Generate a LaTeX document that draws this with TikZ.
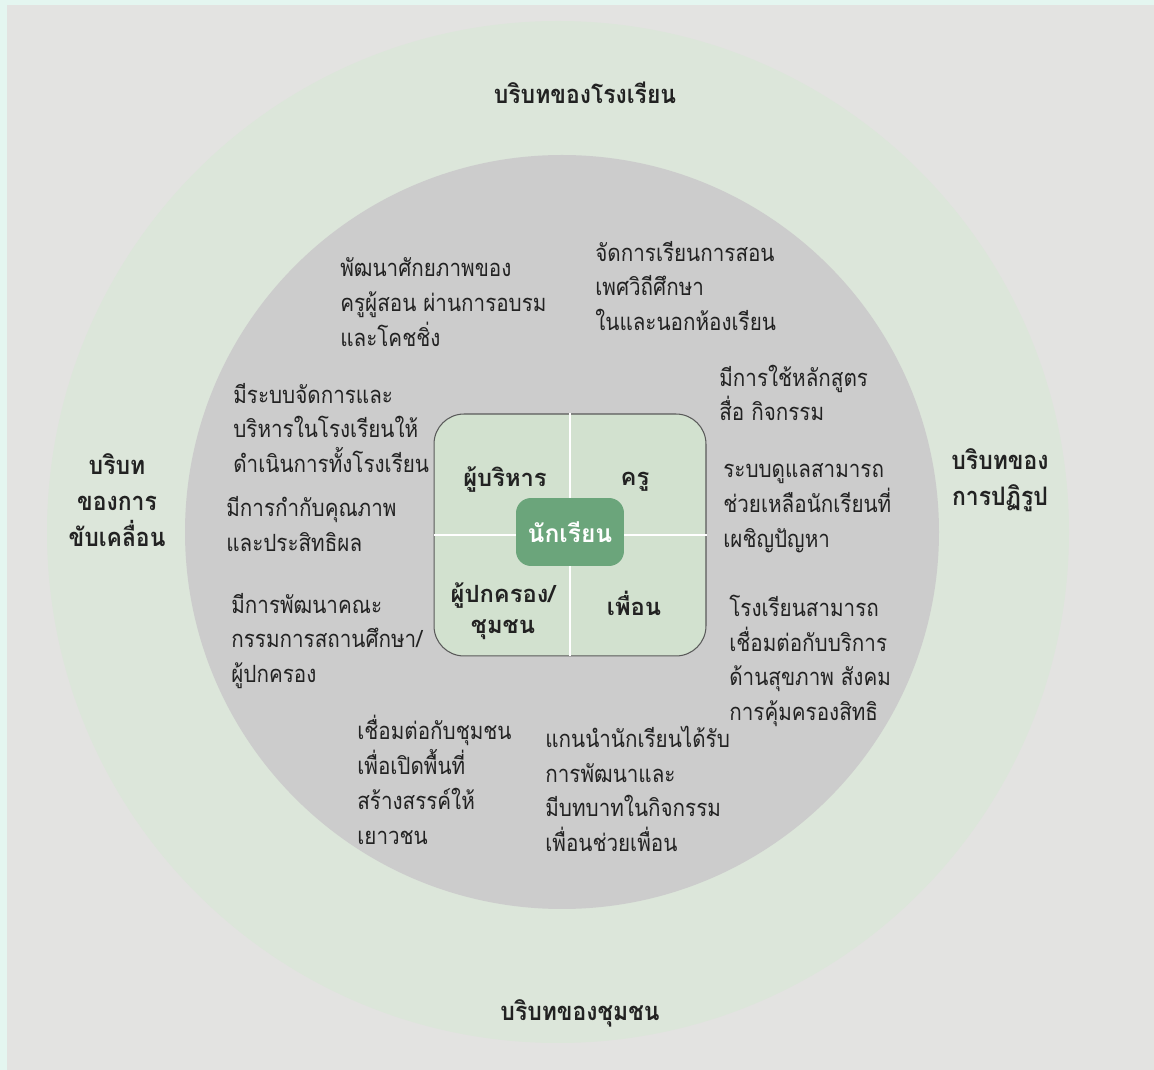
\documentclass[tikz,border=0pt]{standalone}
\usepackage{fontspec}
\newfontfamily\thaifont[Script=Thai]{Loma}
\newfontfamily\thainarrow[Script=Thai, FakeStretch=0.87]{Loma}
\newfontfamily\thaihead[Script=Thai, FakeStretch=0.9]{Loma}

\definecolor{checker}{HTML}{E4F6F0}
\definecolor{paper}{HTML}{E3E3E1}
\definecolor{ringgreen}{HTML}{DCE6DA}
\definecolor{coregray}{HTML}{CCCCCC}
\definecolor{hubgreen}{HTML}{D2E1CF}
\definecolor{studentgreen}{HTML}{6BA57B}
\definecolor{ink}{HTML}{222222}

\tikzset{
	blurb/.style={anchor=west, align=left, inner sep=0pt, text=ink,
		font=\thainarrow\fontsize{13.5}{19.8}\selectfont},
	ctxlabel/.style={align=center, inner sep=0pt, text=ink,
		font=\thaihead\bfseries\fontsize{14.5}{21}\selectfont},
	rolelabel/.style={align=center, inner sep=0pt, text=ink,
		font=\thaifont\bfseries\fontsize{13.5}{17.5}\selectfont},
}

\begin{document}
\begin{tikzpicture}[x=0.02cm, y=-0.02cm]
% page and rings
\fill[checker] (0,0) rectangle (1154,1070);
\fill[paper] (7,5) rectangle (1154,1070);
\useasboundingbox (0,0) rectangle (1154,1070);
\fill[ringgreen] (558,532) circle (511);
\fill[coregray] (562,532) circle (377);

% hub
\node[draw=black!65, line width=0.6pt, fill=hubgreen, rounded corners=0.6cm,
	minimum width=5.44cm, minimum height=4.84cm] (hub) at (570,535) {};
\draw[white, line width=1.2pt] (hub.north) -- (hub.south);
\draw[white, line width=1.2pt] (hub.west) -- (hub.east);
\node[fill=studentgreen, rounded corners=0.3cm, minimum width=2.16cm,
	minimum height=1.36cm, text=white, font=\thaifont\bfseries\fontsize{14}{17}\selectfont]
	(student) at (570,532) {นักเรียน};

\node[rolelabel] (admin) at (505,480) {ผู้บริหาร};
\node[rolelabel] (teacher) at (635,482) {ครู};
\node[rolelabel] (parent) at (503,611) {ผู้ปกครอง/\\ชุมชน};
\node[rolelabel] (friend) at (634,603) {เพื่อน};

% contexts
\node[ctxlabel] (school) at (585,93) {บริบทของโรงเรียน};
\node[ctxlabel] (community) at (580,1013) {บริบทของชุมชน};
\node[ctxlabel, font=\thaihead\bfseries\fontsize{14.5}{20.5}\selectfont] (drive) at (117,500) {บริบท\\ของการ\\ขับเคลื่อน};
\node[ctxlabel, font=\thaihead\bfseries\fontsize{14.5}{20.5}\selectfont] (reform) at (1000,480) {บริบทของ\\การปฏิรูป};

% school actions
\node[blurb] (coach) at (340,302) {พัฒนาศักยภาพของ\\ครูผู้สอน ผ่านการอบรม\\และโคชชิ่ง};
\node[blurb] (sexed) at (595,286) {จัดการเรียนการสอน\\เพศวิถีศึกษา\\ในและนอกห้องเรียน};
\node[blurb] (manage) at (233,428) {มีระบบจัดการและ\\บริหารในโรงเรียนให้\\ดำเนินการทั้งโรงเรียน};
\node[blurb] (quality) at (226,524) {มีการกำกับคุณภาพ\\และประสิทธิผล};
\node[blurb] (board) at (231,641) {มีการพัฒนาคณะ\\กรรมการสถานศึกษา/\\ผู้ปกครอง};
\node[blurb] (curric) at (719,393) {มีการใช้หลักสูตร\\สื่อ กิจกรรม};
\node[blurb] (care) at (723,508) {ระบบดูแลสามารถ\\ช่วยเหลือนักเรียนที่\\เผชิญปัญหา};
\node[blurb] (service) at (729,661) {โรงเรียนสามารถ\\เชื่อมต่อกับบริการ\\ด้านสุขภาพ สังคม\\การคุ้มครองสิทธิ};
\node[blurb] (space) at (357,780) {เชื่อมต่อกับชุมชน\\เพื่อเปิดพื้นที่\\สร้างสรรค์ให้\\เยาวชน};
\node[blurb] (peer) at (545,789) {แกนนำนักเรียนได้รับ\\การพัฒนาและ\\มีบทบาทในกิจกรรม\\เพื่อนช่วยเพื่อน};
\end{tikzpicture}
\end{document}
